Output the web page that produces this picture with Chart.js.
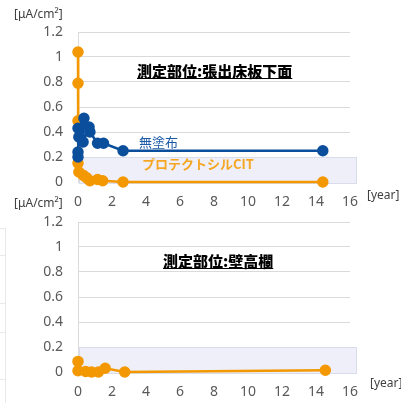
<!DOCTYPE html>
<html lang="ja">
  <head>
    <meta charset="UTF-8" />
    <title>測定部位</title>
    <script src="https://cdn.jsdelivr.net/npm/chart.js"></script>
    <style>
      body {
        margin: 0;
        background: #fff;
        font-family: 'Noto Sans', 'Noto Sans CJK JP', sans-serif;
      }
      .wrap {
        position: relative;
        width: 401px;
        height: 403px;
        overflow: hidden;
      }
      canvas {
        position: absolute;
        left: 0;
      }
      .lbl {
        position: absolute;
        white-space: nowrap;
        line-height: 1;
      }
      .unit {
        font-size: 12px;
        color: #404040;
      }
      .title {
        font-family: 'Noto Sans CJK JP', sans-serif;
        font-weight: 900;
        font-size: 15px;
        color: #000;
        text-decoration: underline;
      }
      .edge {
        position: absolute;
        left: 0;
        width: 5px;
        border-right: 1px solid #e8e8e8;
        border-top: 1px solid #e8e8e8;
      }
    </style>
  </head>
  <body>
    <div class="wrap">
      <canvas id="chartTop" width="401" height="210" style="top:0"></canvas>
      <canvas id="chartBottom" width="401" height="211" style="top:192px"></canvas>

      <div class="edge" style="top:228px;height:27px"></div>
      <div class="edge" style="top:255px;height:48px"></div>
      <div class="edge" style="top:303px;height:29px"></div>
      <div class="edge" style="top:332px;height:47px"></div>
      <div class="edge" style="top:379px;height:30px"></div>

      <div class="lbl unit" style="left:14px;top:8px">[μA/cm²]</div>
      <div class="lbl unit" style="left:367px;top:189px">[year]</div>
      <div class="lbl unit" style="left:14px;top:197px">[μA/cm²]</div>
      <div class="lbl unit" style="left:370px;top:377px">[year]</div>

      <div class="lbl title" style="left:137px;top:63px">測定部位:張出床板下面</div>
      <div class="lbl title" style="left:163px;top:253px">測定部位:壁高欄</div>

      <div class="lbl" style="left:139px;top:135px;font-size:13px;color:#1a5aa6;font-family:'Noto Sans CJK JP',sans-serif">無塗布</div>
      <div class="lbl" style="left:142px;top:157px;font-size:13px;font-weight:bold;color:#f5a623;font-family:'Noto Sans CJK JP',sans-serif">プロテクトシルCIT</div>
    </div>

    <script>
      // 張出床板下面 - 無塗布
      const topBlueX = [0, 0, 0.05, 0, 0.35, 0.3, 0.65, 0.7, 1.15, 1.5, 2.65, 14.4];
      const topBlueY = [0.2, 0.24, 0.36, 0.43, 0.51, 0.32, 0.44, 0.4, 0.31, 0.31, 0.25, 0.25];
      // 張出床板下面 - プロテクトシルCIT
      const topOrangeX = [0, 0, 0, 0, 0.05, 0.3, 0.5, 0.7, 1.15, 1.45, 2.65, 14.4];
      const topOrangeY = [1.04, 0.79, 0.49, 0.15, 0.08, 0.055, 0.035, 0.01, 0.02, 0.01, 0, 0];
      // 壁高欄 - プロテクトシルCIT
      const bottomOrangeX = [0, 0, 0.45, 0.8, 1.2, 1.6, 2.75, 14.55];
      const bottomOrangeY = [0.085, 0.01, 0.005, 0, 0, 0.03, 0, 0.014];

      const yTicks = [0, 0.2, 0.4, 0.6, 0.8, 1, 1.2];
      const xTicks = [0, 2, 4, 6, 8, 10, 12, 14, 16];
      const band = [0, 0.2];

      const BLUE = '#0b4f9c';
      const ORANGE = '#f39800';

      function toPoints(xs, ys) {
        return xs.map((x, i) => ({ x: x, y: ys[i] }));
      }

      function series(xs, ys, color) {
        return {
          data: toPoints(xs, ys),
          borderColor: color,
          backgroundColor: color,
          pointBackgroundColor: color,
          pointBorderColor: color,
          borderWidth: 2.5,
          pointRadius: 4.5,
          pointHoverRadius: 4.5,
          tension: 0,
          clip: false,
        };
      }

      // light band 0 - 0.2
      const bandPlugin = {
        id: 'band',
        beforeDatasetsDraw(chart) {
          const { ctx, chartArea, scales } = chart;
          const yTop = scales.y.getPixelForValue(band[1]);
          const yBot = scales.y.getPixelForValue(band[0]);
          const x1 = chartArea.left + 1;
          const x2 = chartArea.right + 6;
          ctx.save();
          ctx.fillStyle = '#eeeff8';
          ctx.fillRect(x1, yTop, x2 - x1, yBot - yTop + 1);
          ctx.strokeStyle = '#d9dcea';
          ctx.lineWidth = 1;
          ctx.strokeRect(x1 + 0.5, yTop + 0.5, x2 - x1, yBot - yTop + 1);
          ctx.restore();
        },
      };

      function makeChart(id, datasets, padTop, xAxisHeight) {
        return new Chart(document.getElementById(id), {
          type: 'line',
          data: { datasets: datasets },
          plugins: [bandPlugin],
          options: {
            responsive: false,
            animation: false,
            events: [],
            layout: { padding: { top: padTop, right: 51, left: 0, bottom: 0 } },
            plugins: { legend: { display: false }, tooltip: { enabled: false } },
            scales: {
              x: {
                type: 'linear',
                min: xTicks[0],
                max: xTicks[xTicks.length - 1],
                afterBuildTicks: (s) => {
                  s.ticks = xTicks.map((v) => ({ value: v }));
                },
                afterFit: (s) => {
                  s.height = xAxisHeight;
                },
                grid: { display: false },
                border: { display: false },
                ticks: {
                  color: '#595959',
                  padding: 4,
                  maxRotation: 0,
                  callback: (v) => String(v),
                  font: { family: "'Noto Sans', sans-serif", size: 14 },
                },
              },
              y: {
                min: yTicks[0],
                max: yTicks[yTicks.length - 1],
                afterBuildTicks: (s) => {
                  s.ticks = yTicks.map((v) => ({ value: v }));
                },
                afterFit: (s) => {
                  s.width = 78;
                },
                grid: { color: '#dadada', lineWidth: 1, drawTicks: false },
                border: { color: '#dadada' },
                ticks: {
                  color: '#595959',
                  padding: 15,
                  callback: (v) => String(v),
                  font: { family: "'Noto Sans', sans-serif", size: 14 },
                },
              },
            },
          },
        });
      }

      makeChart(
        'chartTop',
        [
          series(topBlueX, topBlueY, BLUE),
          series(topOrangeX, topOrangeY, ORANGE),
        ],
        32,
        28
      );

      makeChart(
        'chartBottom',
        [series(bottomOrangeX, bottomOrangeY, ORANGE)],
        30,
        31
      );
    </script>
  </body>
</html>
